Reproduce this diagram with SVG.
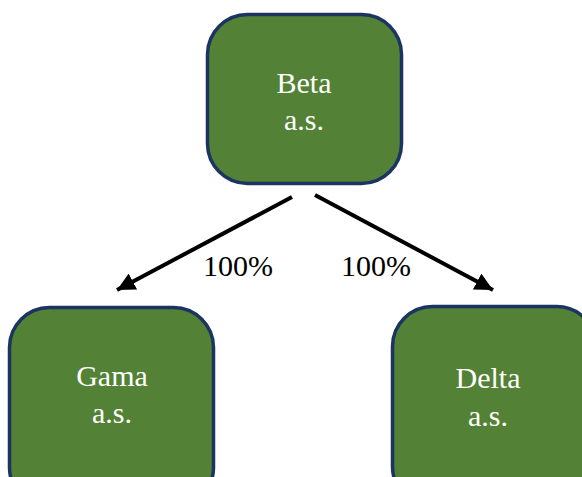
<svg xmlns="http://www.w3.org/2000/svg" width="582" height="477" viewBox="0 0 582 477">
<style>
.box{fill:#538135;stroke:#1c3461;stroke-width:3.5}
.t{font-family:'Liberation Serif','DejaVu Serif',Times,serif;font-size:30px;fill:#ffffff;text-anchor:middle}
.lbl{font-family:'Liberation Serif','DejaVu Serif',Times,serif;font-size:30px;fill:#000000;text-anchor:middle}
.c{stroke:#000;stroke-width:4;fill:none;marker-end:url(#ah)}
</style>
<defs>
<marker id="ah" markerUnits="userSpaceOnUse" markerWidth="20" markerHeight="18" refX="18" refY="9" orient="auto">
<path d="M0,0 L18,9 L0,18 z" fill="#000"/>
</marker>
</defs>
<rect width="582" height="477" fill="#ffffff"/>
<g id="connectors">
<line class="c" x1="292" y1="197" x2="117" y2="290"/>
<line class="c" x1="315" y1="195" x2="493" y2="290"/>
<text class="lbl" x="238" y="276">100%</text>
<text class="lbl" x="376" y="276">100%</text>
</g>
<g id="beta">
<rect class="box" x="207.5" y="14.5" width="194" height="169" rx="40"/>
<text class="t" x="304" y="93">Beta</text>
<text class="t" x="304" y="130">a.s.</text>
</g>
<g id="gama">
<rect class="box" x="9.5" y="307.5" width="204" height="200" rx="40"/>
<text class="t" x="112" y="386">Gama</text>
<text class="t" x="112" y="423">a.s.</text>
</g>
<g id="delta">
<rect class="box" x="392.5" y="306.5" width="204" height="200" rx="40"/>
<text class="t" x="488" y="388">Delta</text>
<text class="t" x="488" y="426">a.s.</text>
</g>
</svg>
